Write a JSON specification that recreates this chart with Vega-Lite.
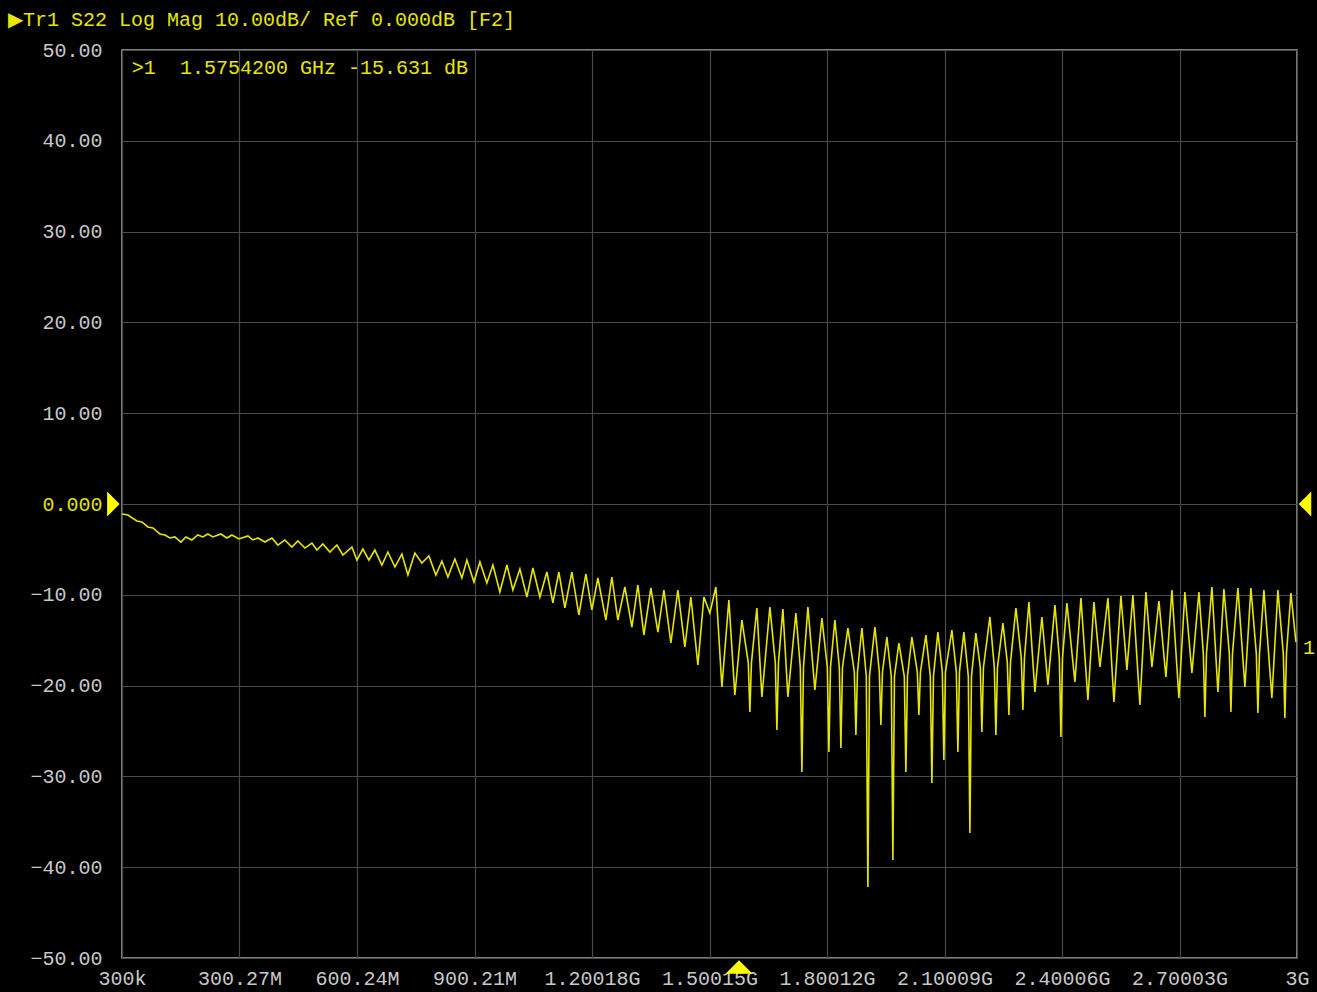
{
"$schema": "https://vega.github.io/schema/vega-lite/v6.json",
"width": 1175, "height": 908,
"autosize": {"type": "none"},
"padding": {"left": 122, "top": 50, "right": 20, "bottom": 34},
"background": "#000000",
"config": {"view": {"stroke": "#a8a8a8", "strokeWidth": 1.5, "fill": "#000000"}, "font": "Liberation Mono"},
"title": {"text": "▶Tr1 S22 Log Mag 10.00dB/ Ref 0.000dB [F2]", "anchor": "start", "frame": "group", "dx": -114, "offset": 10, "color": "#e6e600", "font": "Liberation Mono", "fontSize": 20, "fontWeight": "normal"},
"datasets": {
"trace": [
{"f":0.0003,"db":-1.10},{"f":0.0153,"db":-1.21},{"f":0.0383,"db":-1.87},{"f":0.0511,"db":-1.98},{"f":0.0664,"db":-2.53},{"f":0.0791,"db":-2.64},{"f":0.0970,"db":-3.30},{"f":0.1098,"db":-3.41},{"f":0.1225,"db":-3.74},{"f":0.1353,"db":-3.63},{"f":0.1506,"db":-4.19},{"f":0.1634,"db":-3.63},{"f":0.1787,"db":-3.96},{"f":0.1940,"db":-3.41},{"f":0.2068,"db":-3.63},{"f":0.2195,"db":-3.30},{"f":0.2323,"db":-3.63},{"f":0.2527,"db":-3.30},{"f":0.2681,"db":-3.74},{"f":0.2808,"db":-3.41},{"f":0.2987,"db":-3.85},{"f":0.3217,"db":-3.52},{"f":0.3344,"db":-3.96},{"f":0.3472,"db":-3.74},{"f":0.3651,"db":-4.19},{"f":0.3830,"db":-3.74},{"f":0.3983,"db":-4.52},{"f":0.4161,"db":-3.96},{"f":0.4340,"db":-4.74},{"f":0.4493,"db":-4.07},{"f":0.4672,"db":-4.85},{"f":0.4851,"db":-4.30},{"f":0.4978,"db":-5.07},{"f":0.5132,"db":-4.41},{"f":0.5310,"db":-5.29},{"f":0.5489,"db":-4.52},{"f":0.5642,"db":-5.62},
{"f":0.5872,"db":-4.74},{"f":0.6000,"db":-6.17},{"f":0.6153,"db":-4.96},{"f":0.6306,"db":-6.17},{"f":0.6459,"db":-5.07},{"f":0.6638,"db":-6.72},{"f":0.6791,"db":-5.29},{"f":0.6970,"db":-6.94},{"f":0.7148,"db":-5.51},{"f":0.7302,"db":-7.82},{"f":0.7480,"db":-5.40},{"f":0.7659,"db":-6.50},{"f":0.7838,"db":-5.73},{"f":0.8016,"db":-7.82},{"f":0.8170,"db":-6.28},{"f":0.8323,"db":-8.04},{"f":0.8501,"db":-6.06},{"f":0.8680,"db":-8.15},{"f":0.8808,"db":-6.17},{"f":0.8987,"db":-8.59},{"f":0.9140,"db":-6.39},{"f":0.9318,"db":-8.70},{"f":0.9472,"db":-6.72},{"f":0.9650,"db":-9.69},{"f":0.9829,"db":-6.72},{"f":0.9982,"db":-9.47},{"f":1.0161,"db":-7.16},{"f":1.0340,"db":-10.24},{"f":1.0493,"db":-7.05},{"f":1.0671,"db":-10.24},{"f":1.0850,"db":-7.49},{"f":1.1003,"db":-10.90},{"f":1.1156,"db":-7.49},{"f":1.1310,"db":-11.45},{"f":1.1488,"db":-7.49},{"f":1.1667,"db":-12.22},{"f":1.1846,"db":-7.71},
{"f":1.1999,"db":-11.67},{"f":1.2152,"db":-8.15},{"f":1.2356,"db":-12.78},{"f":1.2509,"db":-8.04},{"f":1.2662,"db":-12.78},{"f":1.2841,"db":-9.14},{"f":1.3020,"db":-13.55},{"f":1.3173,"db":-8.92},{"f":1.3326,"db":-14.43},{"f":1.3505,"db":-9.25},{"f":1.3684,"db":-14.10},{"f":1.3837,"db":-9.47},{"f":1.4016,"db":-15.31},{"f":1.4194,"db":-9.47},{"f":1.4373,"db":-15.75},{"f":1.4526,"db":-10.24},{"f":1.4705,"db":-17.73},{"f":1.4858,"db":-10.24},{"f":1.5011,"db":-12.00},{"f":1.5164,"db":-9.14},{"f":1.5318,"db":-20.15},{"f":1.5496,"db":-10.57},{"f":1.5649,"db":-21.03},{"f":1.5828,"db":-12.78},{"f":1.5992,"db":-17.5},{"f":1.6032,"db":-22.91},{"f":1.6072,"db":-17.5},{"f":1.6211,"db":-11.45},{"f":1.6339,"db":-21.26},{"f":1.6543,"db":-11.34},{"f":1.6682,"db":-17.5},{"f":1.6722,"db":-24.89},{"f":1.6762,"db":-17.5},{"f":1.6875,"db":-11.56},{"f":1.7003,"db":-21.26},{"f":1.7207,"db":-12.00},{"f":1.7320,"db":-18.0},{"f":1.7360,"db":-29.51},{"f":1.7400,"db":-18.0},{"f":1.7514,"db":-11.34},{"f":1.7692,"db":-20.48},{"f":1.7871,"db":-12.56},
{"f":1.8010,"db":-18.0},{"f":1.8050,"db":-27.31},{"f":1.8090,"db":-18.0},{"f":1.8203,"db":-12.78},{"f":1.8316,"db":-18.0},{"f":1.8356,"db":-26.87},{"f":1.8396,"db":-18.0},{"f":1.8535,"db":-13.66},{"f":1.8699,"db":-18.5},{"f":1.8739,"db":-25.44},{"f":1.8779,"db":-18.5},{"f":1.8892,"db":-13.66},{"f":1.9005,"db":-19.0},{"f":1.9045,"db":-42.18},{"f":1.9085,"db":-19.0},{"f":1.9224,"db":-13.55},{"f":1.9337,"db":-18.5},{"f":1.9377,"db":-24.34},{"f":1.9417,"db":-18.5},{"f":1.9530,"db":-14.65},{"f":1.9643,"db":-19.0},{"f":1.9683,"db":-39.21},{"f":1.9723,"db":-19.0},{"f":1.9837,"db":-15.31},{"f":1.9975,"db":-19.0},{"f":2.0015,"db":-29.51},{"f":2.0055,"db":-19.0},{"f":2.0168,"db":-14.65},{"f":2.0307,"db":-18.5},{"f":2.0347,"db":-23.24},{"f":2.0387,"db":-18.5},{"f":2.0526,"db":-14.43},{"f":2.0639,"db":-19.0},{"f":2.0679,"db":-30.73},{"f":2.0719,"db":-19.0},{"f":2.0832,"db":-14.10},{"f":2.0945,"db":-18.5},{"f":2.0985,"db":-28.19},{"f":2.1025,"db":-18.5},{"f":2.1189,"db":-13.88},{"f":2.1303,"db":-18.5},{"f":2.1343,"db":-27.31},{"f":2.1383,"db":-18.5},{"f":2.1496,"db":-14.10},{"f":2.1609,"db":-19.0},{"f":2.1649,"db":-36.23},{"f":2.1689,"db":-19.0},{"f":2.1802,"db":-14.21},{"f":2.1915,"db":-18.0},{"f":2.1955,"db":-25.11},{"f":2.1995,"db":-18.0},{"f":2.2160,"db":-12.44},{"f":2.2273,"db":-18.0},{"f":2.2313,"db":-25.44},{"f":2.2353,"db":-18.0},{"f":2.2492,"db":-13.11},{"f":2.2605,"db":-17.5},{"f":2.2645,"db":-23.24},{"f":2.2685,"db":-17.5},{"f":2.2824,"db":-11.45},{"f":2.2962,"db":-17.0},{"f":2.3002,"db":-22.69},{"f":2.3042,"db":-17.0},{"f":2.3156,"db":-10.79},{"f":2.3309,"db":-20.70},{"f":2.3488,"db":-12.44},{"f":2.3641,"db":-19.93},{"f":2.3820,"db":-11.12},
{"f":2.3933,"db":-17.0},{"f":2.3973,"db":-25.66},{"f":2.4013,"db":-17.0},{"f":2.4126,"db":-10.90},{"f":2.4330,"db":-19.60},{"f":2.4484,"db":-10.35},{"f":2.4662,"db":-21.59},{"f":2.4816,"db":-10.79},{"f":2.4969,"db":-17.95},{"f":2.5173,"db":-10.35},{"f":2.5326,"db":-21.81},{"f":2.5505,"db":-10.13},{"f":2.5658,"db":-18.28},{"f":2.5811,"db":-10.02},{"f":2.5990,"db":-22.14},{"f":2.6143,"db":-9.69},{"f":2.6296,"db":-17.95},{"f":2.6475,"db":-10.68},{"f":2.6653,"db":-19.05},{"f":2.6807,"db":-9.47},{"f":2.6985,"db":-21.37},{"f":2.7138,"db":-9.69},{"f":2.7317,"db":-18.61},{"f":2.7496,"db":-9.69},{"f":2.7609,"db":-16.5},{"f":2.7649,"db":-23.46},{"f":2.7689,"db":-16.5},{"f":2.7828,"db":-9.14},{"f":2.7981,"db":-20.70},{"f":2.8134,"db":-9.36},{"f":2.8273,"db":-16.5},{"f":2.8313,"db":-22.91},{"f":2.8353,"db":-16.5},{"f":2.8491,"db":-9.25},{"f":2.8670,"db":-20.15},{"f":2.8823,"db":-9.25},{"f":2.8962,"db":-16.5},{"f":2.9002,"db":-23.02},{"f":2.9042,"db":-16.5},{"f":2.9155,"db":-9.47},{"f":2.9359,"db":-21.37},{"f":2.9512,"db":-9.47},{"f":2.9651,"db":-16.5},{"f":2.9691,"db":-23.57},{"f":2.9731,"db":-16.5},{"f":2.9844,"db":-9.80},{"f":2.9972,"db":-15.20}
],
"notes": [
{"f":0.0255,"db":48.0,"label":">1\u00a0\u00a01.5754200 GHz -15.631 dB"},
{"f":3.0155,"db":-15.86,"label":"1"}
]
},
"layer": [
{"data": {"name": "trace"},
 "mark": {"type": "line", "color": "#e6e600", "strokeWidth": 1.6, "clip": true},
 "encoding": {
  "x": {"field": "f", "type": "quantitative",
   "scale": {"domain": [0.0003, 3], "nice": false, "zero": false},
   "axis": {"values": [0.0003,0.30027,0.60024,0.90021,1.20018,1.50015,1.80012,2.10009,2.40006,2.70003,3],
    "labelExpr": "['300k','300.27M','600.24M','900.21M','1.20018G','1.50015G','1.80012G','2.10009G','2.40006G','2.70003G','3G'][round((datum.value-0.0003)/0.29997)]",
    "title": null, "grid": true, "gridColor": "#4a4a4a", "gridWidth": 1.2, "domain": false, "ticks": false,
    "labelColor": "#c8c8c8", "labelFont": "Liberation Mono", "labelFontSize": 20, "labelPadding": 10,
    "labelOverlap": false, "labelFlush": false}},
  "y": {"field": "db", "type": "quantitative",
   "scale": {"domain": [-50, 50], "nice": false, "zero": false},
   "axis": {"values": [-50,-40,-30,-20,-10,0,10,20,30,40,50],
    "labelExpr": "datum.value == 0 ? '0.000' : format(datum.value, '.2f')",
    "labelColor": {"condition": {"test": "datum.value == 0", "value": "#e6e600"}, "value": "#c8c8c8"},
    "title": null, "grid": true, "gridColor": "#4a4a4a", "gridWidth": 1.2, "domain": false, "ticks": false,
    "labelFont": "Liberation Mono", "labelFontSize": 20, "labelPadding": 20, "labelOverlap": false, "labelFlush": false}}
 }},
{"data": {"name": "notes"},
 "mark": {"type": "text", "color": "#e6e600", "font": "Liberation Mono", "fontSize": 20, "align": "left", "baseline": "middle"},
 "encoding": {"x": {"field": "f", "type": "quantitative"}, "y": {"field": "db", "type": "quantitative"}, "text": {"field": "label"}}},
{"data": {"values": [{"f": -0.0217, "db": 0}]},
 "mark": {"type": "point", "filled": true, "color": "#ffff00", "opacity": 1, "size": 625, "shape": "M-0.5,-1L0.5,0L-0.5,1Z"},
 "encoding": {"x": {"field": "f", "type": "quantitative"}, "y": {"field": "db", "type": "quantitative"}}},
{"data": {"values": [{"f": 3.0204, "db": 0}]},
 "mark": {"type": "point", "filled": true, "color": "#ffff00", "opacity": 1, "size": 625, "shape": "M0.5,-1L-0.5,0L0.5,1Z"},
 "encoding": {"x": {"field": "f", "type": "quantitative"}, "y": {"field": "db", "type": "quantitative"}}},
{"data": {"values": [{"f": 1.5754, "db": -50.99}]},
 "mark": {"type": "point", "filled": true, "color": "#ffff00", "opacity": 1, "size": 729, "shape": "M-1,0.5L0,-0.5L1,0.5Z"},
 "encoding": {"x": {"field": "f", "type": "quantitative"}, "y": {"field": "db", "type": "quantitative"}}}
]
}
